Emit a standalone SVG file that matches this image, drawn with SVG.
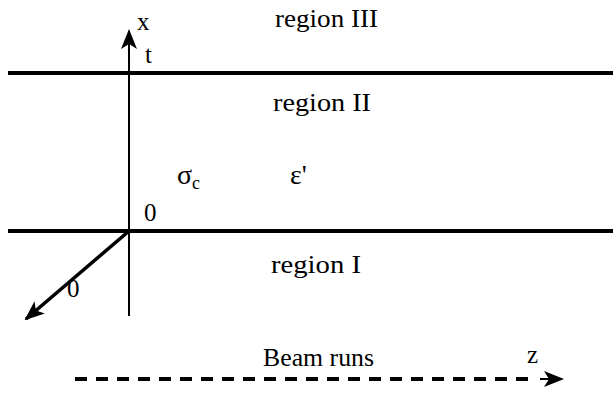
<svg xmlns="http://www.w3.org/2000/svg" width="613" height="396" viewBox="0 0 613 396">
<style>
.solid{stroke:#000;fill:none}
.lbl{font-family:'Liberation Serif','DejaVu Serif',serif;font-size:25px;fill:#000}
.greek{font-size:28px}
.sub{font-size:18px}
</style>
<defs>
<marker id="ah" viewBox="0 0 20 16" refX="18" refY="8" markerWidth="20" markerHeight="16" markerUnits="userSpaceOnUse" orient="auto">
<path d="M0,0 L20,8 L0,16 L5,8 Z" fill="#000"/>
</marker>
</defs>
<rect width="613" height="396" fill="#fff"/>
<g id="connectors">
<line class="solid" x1="8" y1="73" x2="613" y2="73" stroke-width="4"/>
<line class="solid" x1="8" y1="231" x2="613" y2="231" stroke-width="4"/>
<line class="solid" x1="129" y1="316" x2="129" y2="31" stroke-width="2" marker-end="url(#ah)"/>
<line class="solid" x1="129" y1="231" x2="26" y2="319" stroke-width="3.5" marker-end="url(#ah)"/>
<line class="solid" x1="75" y1="379" x2="535" y2="379" stroke-width="4" stroke-dasharray="12 9"/>
<line class="solid" x1="540" y1="379" x2="562" y2="379" stroke-width="2" marker-end="url(#ah)"/>
</g>
<g id="labels">
<text class="lbl" x="275" y="27" textLength="103" lengthAdjust="spacingAndGlyphs">region III</text>
<text class="lbl" x="273" y="111" textLength="98" lengthAdjust="spacingAndGlyphs">region II</text>
<text class="lbl" x="271" y="273" textLength="90" lengthAdjust="spacingAndGlyphs">region I</text>
<text class="lbl" x="263" y="366" textLength="111" lengthAdjust="spacingAndGlyphs">Beam runs</text>
<text class="lbl" x="527" y="363">z</text>
<text class="lbl" x="137" y="30">x</text>
<text class="lbl" x="145" y="63">t</text>
<text class="lbl" x="144" y="221">0</text>
<text class="lbl" x="67" y="297">0</text>
<text class="lbl greek" x="177" y="184">σ<tspan class="sub" dy="5">c</tspan></text>
<text class="lbl greek" x="290" y="184">ε'</text>
</g>
</svg>
